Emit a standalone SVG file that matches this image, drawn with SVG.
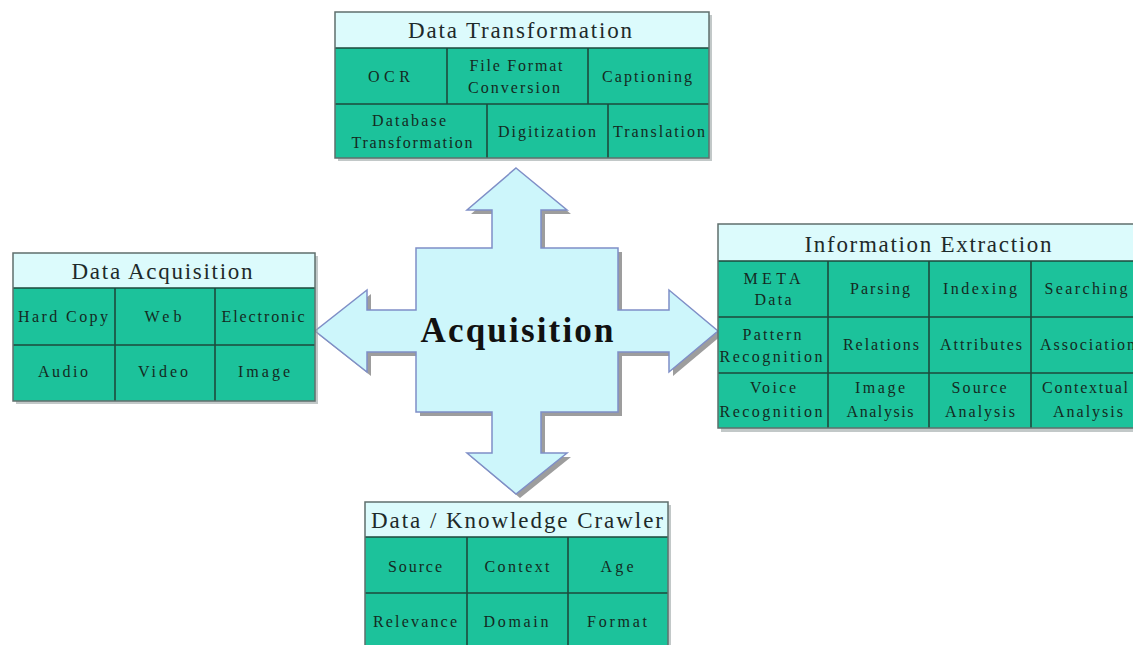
<svg xmlns="http://www.w3.org/2000/svg" width="1133" height="645" viewBox="0 0 1133 645">
<style>
.hdr{fill:#dcfbfc}
.cell{fill:#1cc29b}
.frame{fill:none;stroke:#5f6f6c;stroke-width:1.5}
.shadow{fill:#9aa3a3;opacity:0.6}
.grid{stroke:#1d4a3d;stroke-width:1.6;fill:none}
.ht{font-family:"Liberation Serif",serif;font-size:23px;fill:#1e2a2a}
.ct{font-family:"Liberation Serif",serif;font-size:16px;fill:#142a22}
.arrow{fill:#cdf6fb;stroke:#7f8fc7;stroke-width:1.5;stroke-linejoin:miter}
.ashadow{fill:#8c8c8c;opacity:0.85}
.big{font-family:"Liberation Serif",serif;font-size:35px;font-weight:bold;fill:#111}
</style>
<rect width="1133" height="645" fill="#ffffff"/>

<g id="connectors">
<polygon class="ashadow" transform="translate(4,4)" points="516,168 567,210 541,210 541,248 618,248 618,310 669,310 669,290 718,331 669,372 669,352 618,352 618,412 541,412 541,453 567,453 516,494 467,453 492,453 492,412 416,412 416,352 367,352 367,372 315,331 367,290 367,310 416,310 416,248 492,248 492,210 467,210"/>
<polygon class="arrow" points="516,168 567,210 541,210 541,248 618,248 618,310 669,310 669,290 718,331 669,372 669,352 618,352 618,412 541,412 541,453 567,453 516,494 467,453 492,453 492,412 416,412 416,352 367,352 367,372 315,331 367,290 367,310 416,310 416,248 492,248 492,210 467,210"/>
</g>

<g id="acquisition">
<text class="big" x="517" y="342" text-anchor="middle" textLength="193" lengthAdjust="spacing">Acquisition</text>
</g>

<g id="data-transformation">
<rect class="shadow" x="338" y="15" width="374" height="146"/>
<rect class="hdr" x="335" y="12" width="374" height="36"/>
<rect class="cell" x="335" y="48" width="374" height="110"/>
<path class="grid" d="M335,48H709M335,104H709M447,48V104M588,48V104M487,104V158M608,104V158"/>
<rect class="frame" x="335" y="12" width="374" height="146"/>
<text class="ht" x="520" y="38" text-anchor="middle" textLength="224" lengthAdjust="spacing">Data Transformation</text>
<text class="ct" x="389" y="82" text-anchor="middle" textLength="42" lengthAdjust="spacing">OCR</text>
<text class="ct" x="516" y="71" text-anchor="middle" textLength="93" lengthAdjust="spacing">File Format</text>
<text class="ct" x="514" y="93" text-anchor="middle" textLength="92" lengthAdjust="spacing">Conversion</text>
<text class="ct" x="647" y="82" text-anchor="middle" textLength="90" lengthAdjust="spacing">Captioning</text>
<text class="ct" x="409" y="126" text-anchor="middle" textLength="74" lengthAdjust="spacing">Database</text>
<text class="ct" x="412" y="148" text-anchor="middle" textLength="121" lengthAdjust="spacing">Transformation</text>
<text class="ct" x="547" y="137" text-anchor="middle" textLength="98" lengthAdjust="spacing">Digitization</text>
<text class="ct" x="659" y="137" text-anchor="middle" textLength="92" lengthAdjust="spacing">Translation</text>
</g>

<g id="data-acquisition">
<rect class="shadow" x="16" y="256" width="302" height="148"/>
<rect class="hdr" x="13" y="253" width="302" height="35"/>
<rect class="cell" x="13" y="288" width="302" height="113"/>
<path class="grid" d="M13,288H315M13,345H315M115,288V401M215,288V401"/>
<rect class="frame" x="13" y="253" width="302" height="148"/>
<text class="ht" x="162" y="279" text-anchor="middle" textLength="181" lengthAdjust="spacing">Data Acquisition</text>
<text class="ct" x="63" y="322" text-anchor="middle" textLength="90" lengthAdjust="spacing">Hard Copy</text>
<text class="ct" x="163" y="322" text-anchor="middle" textLength="37" lengthAdjust="spacing">Web</text>
<text class="ct" x="263" y="322" text-anchor="middle" textLength="83" lengthAdjust="spacing">Electronic</text>
<text class="ct" x="63" y="377" text-anchor="middle" textLength="50" lengthAdjust="spacing">Audio</text>
<text class="ct" x="163" y="377" text-anchor="middle" textLength="50" lengthAdjust="spacing">Video</text>
<text class="ct" x="264" y="377" text-anchor="middle" textLength="52" lengthAdjust="spacing">Image</text>
</g>

<g id="information-extraction">
<rect class="shadow" x="721" y="227" width="420" height="205"/>
<rect class="hdr" x="718" y="224" width="420" height="37"/>
<rect class="cell" x="718" y="261" width="420" height="167"/>
<path class="grid" d="M718,261H1138M718,317H1138M718,373H1138M828,261V428M929,261V428M1031,261V428"/>
<rect class="frame" x="718" y="224" width="420" height="204"/>
<text class="ht" x="928" y="252" text-anchor="middle" textLength="247" lengthAdjust="spacing">Information Extraction</text>
<text class="ct" x="772" y="284" text-anchor="middle" textLength="57" lengthAdjust="spacing">META</text>
<text class="ct" x="773" y="305" text-anchor="middle" textLength="37" lengthAdjust="spacing">Data</text>
<text class="ct" x="880" y="294" text-anchor="middle" textLength="60" lengthAdjust="spacing">Parsing</text>
<text class="ct" x="980" y="294" text-anchor="middle" textLength="74" lengthAdjust="spacing">Indexing</text>
<text class="ct" x="1086" y="294" text-anchor="middle" textLength="83" lengthAdjust="spacing">Searching</text>
<text class="ct" x="772" y="340" text-anchor="middle" textLength="59" lengthAdjust="spacing">Pattern</text>
<text class="ct" x="771" y="362" text-anchor="middle" textLength="103" lengthAdjust="spacing">Recognition</text>
<text class="ct" x="881" y="350" text-anchor="middle" textLength="76" lengthAdjust="spacing">Relations</text>
<text class="ct" x="981" y="350" text-anchor="middle" textLength="82" lengthAdjust="spacing">Attributes</text>
<text class="ct" x="1040" y="350" textLength="95" lengthAdjust="spacing">Association</text>
<text class="ct" x="773" y="393" text-anchor="middle" textLength="46" lengthAdjust="spacing">Voice</text>
<text class="ct" x="771" y="417" text-anchor="middle" textLength="103" lengthAdjust="spacing">Recognition</text>
<text class="ct" x="880" y="393" text-anchor="middle" textLength="50" lengthAdjust="spacing">Image</text>
<text class="ct" x="880" y="417" text-anchor="middle" textLength="67" lengthAdjust="spacing">Analysis</text>
<text class="ct" x="979" y="393" text-anchor="middle" textLength="55" lengthAdjust="spacing">Source</text>
<text class="ct" x="980" y="417" text-anchor="middle" textLength="70" lengthAdjust="spacing">Analysis</text>
<text class="ct" x="1085" y="393" text-anchor="middle" textLength="86" lengthAdjust="spacing">Contextual</text>
<text class="ct" x="1088" y="417" text-anchor="middle" textLength="70" lengthAdjust="spacing">Analysis</text>
</g>

<g id="data-knowledge-crawler">
<rect class="shadow" x="368" y="505" width="303" height="145"/>
<rect class="hdr" x="365" y="502" width="303" height="35"/>
<rect class="cell" x="365" y="537" width="303" height="112"/>
<path class="grid" d="M365,537H668M365,593H668M467,537V649M568,537V649"/>
<rect class="frame" x="365" y="502" width="303" height="147"/>
<text class="ht" x="517" y="528" text-anchor="middle" textLength="292" lengthAdjust="spacing">Data / Knowledge Crawler</text>
<text class="ct" x="415" y="572" text-anchor="middle" textLength="54" lengthAdjust="spacing">Source</text>
<text class="ct" x="517" y="572" text-anchor="middle" textLength="65" lengthAdjust="spacing">Context</text>
<text class="ct" x="617" y="572" text-anchor="middle" textLength="33" lengthAdjust="spacing">Age</text>
<text class="ct" x="415" y="627" text-anchor="middle" textLength="84" lengthAdjust="spacing">Relevance</text>
<text class="ct" x="516" y="627" text-anchor="middle" textLength="65" lengthAdjust="spacing">Domain</text>
<text class="ct" x="617" y="627" text-anchor="middle" textLength="60" lengthAdjust="spacing">Format</text>
</g>
</svg>
